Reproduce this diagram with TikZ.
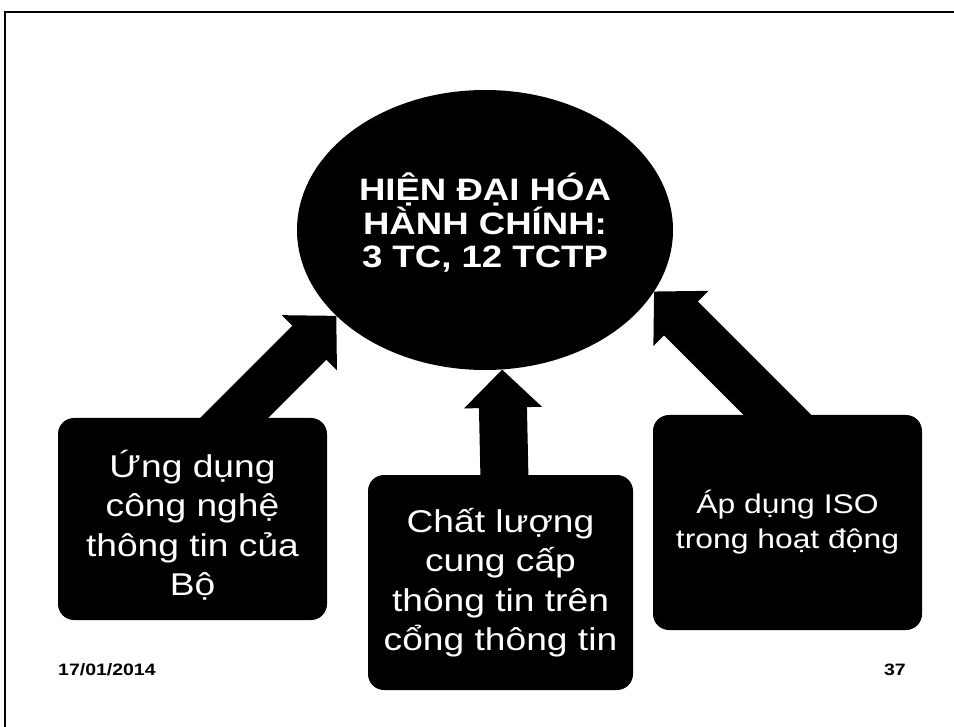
\documentclass[tikz,border=0pt]{standalone}
\usepackage{fontspec}
\setmainfont{Liberation Sans}[FakeStretch=1.18]
\usetikzlibrary{shapes.geometric,calc,backgrounds}
\tikzset{
  blob/.style={fill=black, inner sep=0pt},
  txt/.style={text=white, align=center, inner sep=0pt},
  hub/.style={blob, ellipse, minimum width=376pt, minimum height=280pt},
  hubtext/.style={txt, font=\bfseries\fontsize{31}{33}\selectfont},
  card/.style={blob, rectangle, rounded corners=16pt, minimum height=#1},
  cardtext/.style={txt, font=\fontsize{31.5}{39.5}\selectfont},
  cardsmall/.style={txt, font=\fontsize{27}{35}\selectfont},
  fatarrow/.style={fill=black},
  foot/.style={font=\bfseries\fontsize{16.5}{19}\selectfont, inner sep=0pt},
  frameline/.style={line width=2pt}
}
\newcommand\blockarrow[3]{% #1 start, #2 tip, #3 head-base name
  \coordinate (#3) at ($(#2)!38pt!(#1)$);
  \fill[fatarrow] ($(#1)!24pt!90:(#2)$) -- ($(#3)!24pt!-90:(#1)$)
    -- ($(#3)!39pt!-90:(#1)$) -- (#2) -- ($(#3)!39pt!90:(#1)$)
    -- ($(#3)!24pt!90:(#1)$) -- ($(#1)!24pt!-90:(#2)$) -- cycle;}
\begin{document}
\begin{tikzpicture}[x=1pt, y=-1pt]
  \useasboundingbox (0,0) rectangle (954,727);
  % nodes
  \node[hub, label={[hubtext, yshift=7pt]center:{HIỆN ĐẠI HÓA\\HÀNH CHÍNH:\\3 TC, 12 TCTP}}]
    (ell) at (485,230) {};
  \node[card=202pt, minimum width=269pt,
    label={[cardtext, yshift=-6pt]center:{Ứng dụng\\công nghệ\\thông tin của\\Bộ}}]
    (lbox) at (192.5,519) {};
  \node[card=215pt, minimum width=265pt,
    label={[cardtext]center:{Chất lượng\\cung cấp\\thông tin trên\\cổng thông tin}}]
    (mbox) at (500.5,582.5) {};
  \node[card=215pt, minimum width=269pt,
    label={[cardsmall]center:{Áp dụng ISO\\trong hoạt động}}]
    (rbox) at (787.5,522.5) {};
  \node[foot, anchor=base west] (date) at (58,675) {17/01/2014};
  \node[foot, anchor=base east] (num) at (906,675) {37};
  % frame
  \draw[frameline] (5,727) -- (5,12) -- (954,12);
  \begin{pgfonlayer}{background}
    \fill[white] (0,0) rectangle (954,727);
    \coordinate (lt) at (ell.210);
    \coordinate (mt) at (ell.277);
    \coordinate (rt) at (ell.340);
    \coordinate (ls) at ($(lt)+(-150,150)$);
    \coordinate (ms) at ($(mt)+(3,140)$);
    \coordinate (rs) at ($(rt)+(150,150)$);
    \blockarrow{ls}{lt}{lh}
    \blockarrow{ms}{mt}{mh}
    \blockarrow{rs}{rt}{rh}
  \end{pgfonlayer}
\end{tikzpicture}
\end{document}
